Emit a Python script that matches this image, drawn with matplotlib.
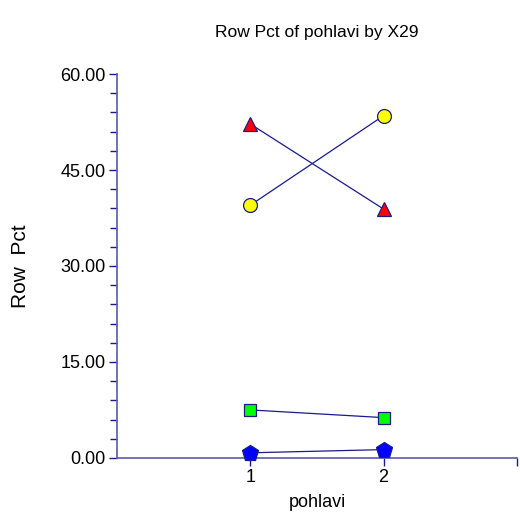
import matplotlib
matplotlib.use("Agg")
import matplotlib.pyplot as plt
from matplotlib.ticker import MultipleLocator, FormatStrFormatter

plt.rcParams['font.family'] = ['Liberation Sans', 'DejaVu Sans']

# pohlavi categories and row percentages per X29 level
pohlavi = [1, 2]
pct_triangle = [52.2, 38.9]
pct_circle = [39.5, 53.5]
pct_square = [7.5, 6.3]
pct_pentagon = [0.8, 1.3]

navy = '#1a1a8c'

fig = plt.figure(figsize=(5.2, 5.18), dpi=100)
ax = fig.add_axes([0.225, 0.116, 0.769, 0.741])

series = [
    (pct_triangle, '^', '#ff0000', 10),
    (pct_circle, 'o', '#ffff00', 10),
    (pct_square, 's', '#00ff00', 8),
    (pct_pentagon, 'p', '#0000ff', 12),
]
for vals, mk, fc, ms in series:
    ax.plot(pohlavi, vals, color=navy, lw=0.9, marker=mk, markersize=ms,
            markerfacecolor=fc, markeredgecolor=navy, markeredgewidth=0.9,
            clip_on=False, zorder=3)

ax.set_xlim(0, 3)
ax.set_ylim(0, 60)
ax.set_xticks([1, 2, 3])
ax.set_xticklabels(['1', '2', ''])
ax.yaxis.set_major_locator(MultipleLocator(15))
ax.yaxis.set_minor_locator(MultipleLocator(3))
ax.yaxis.set_major_formatter(FormatStrFormatter('%.2f'))

for side in ['top', 'right']:
    ax.spines[side].set_visible(False)
for side in ['left', 'bottom']:
    ax.spines[side].set_color('#5a5ab0')
    ax.spines[side].set_linewidth(1.2)

ax.tick_params(axis='both', which='major', direction='out', length=6,
               color=navy, width=1, labelsize=13, pad=2)
ax.tick_params(axis='y', which='minor', direction='out', length=5,
               color=navy, width=1)

ax.set_title('Row Pct of pohlavi by X29', fontsize=12.5, pad=27)
ax.set_ylabel('Row  Pct', fontsize=15, labelpad=22)
ax.set_xlabel('pohlavi', fontsize=13, labelpad=6)

fig.savefig('out.png', dpi=100)
